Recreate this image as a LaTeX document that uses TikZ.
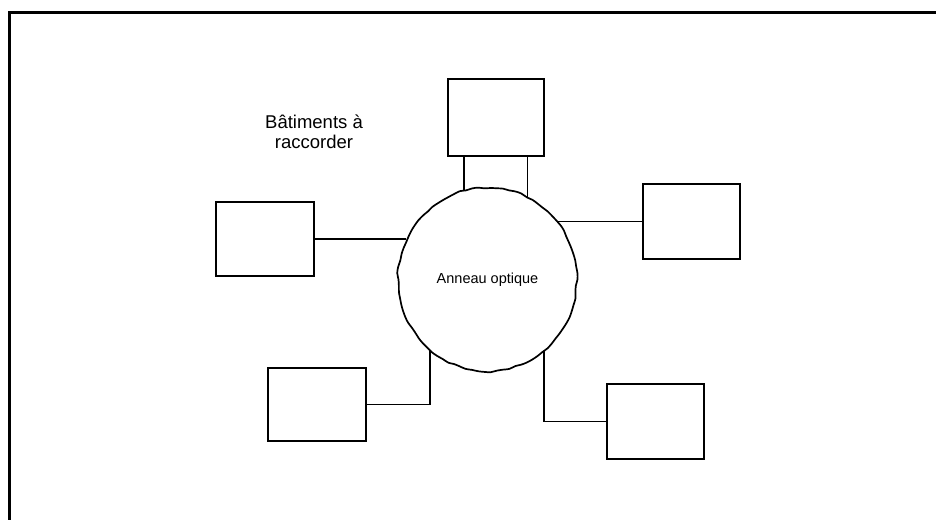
\documentclass[tikz,border=0pt]{standalone}
\usepackage{fontspec}
\setmainfont{Liberation Sans}
\begin{document}
\begin{tikzpicture}[x=1pt,y=-1pt,
  bldg/.style={draw, line width=1.7pt, inner sep=0pt, minimum width=97pt, minimum height=75pt},
  link/.style={line width=1.7pt},
  ringtext/.style={font=\fontsize{14.5}{16}\selectfont}]
\useasboundingbox (0,0) rectangle (936,519);
\clip (0,0) rectangle (936,519);
\draw[line width=3pt] (9.5,12.5) rectangle (960,560);
% ring
\node[circle, minimum size=182pt, inner sep=0pt, ringtext] (ring) at (487.5,279.5) {Anneau optique};
\draw[line width=1.7pt] plot[smooth cycle, samples=90, domain=0:356, variable=\t]
  ({487.5+(89.5+0.5*sin(13*\t)+0.4*sin(23*\t+30)+0.3*sin(31*\t+70))*cos(\t)},
   {279.5-(92+0.5*sin(11*\t+20)+0.4*sin(27*\t)+0.3*sin(37*\t+50))*sin(\t)});
% buildings
\node[bldg, minimum width=96pt, minimum height=77pt] (tb) at (496,117.5) {};
\node[bldg, minimum width=98pt, minimum height=74pt] (lb) at (265,239) {};
\node[bldg] (rb) at (691.5,221.5) {};
\node[bldg, minimum width=98pt, minimum height=73pt] (bl) at (317,404.5) {};
\node[bldg] (br) at (655.5,421.5) {};
% label
\node[align=center, font=\fontsize{18.5}{20.5}\selectfont] (lbl) at (314,132) {Bâtiments à\\raccorder};
% connectors
\draw[link] (ring.105) -- (ring.105 |- tb.south);
\draw[link] (ring.64) -- (ring.64 |- tb.south);
\draw[link] (lb.east) -- (lb.east -| ring.153);
\draw[link] (rb.west) -- (rb.west -| ring.39);
\draw[link] (ring.231) |- (bl.east);
\draw[link] (ring.308) |- (br.west);
\end{tikzpicture}
\end{document}
